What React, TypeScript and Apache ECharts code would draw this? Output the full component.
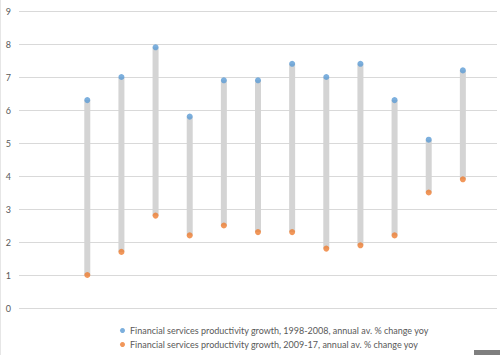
import React, { useEffect, useRef } from "react";
import * as echarts from "echarts";

const categories = ["", "", "A", "B", "C", "D", "E", "F", "G", "H", "I", "J", "K", "L", ""];
const high1998_2008 = [null, null, 6.3, 7.0, 7.9, 5.8, 6.9, 6.9, 7.4, 7.0, 7.4, 6.3, 5.1, 7.2, null];
const low2009_17 = [null, null, 1.0, 1.7, 2.8, 2.2, 2.5, 2.3, 2.3, 1.8, 1.9, 2.2, 3.5, 3.9, null];
const yTicks = [0, 1, 2, 3, 4, 5, 6, 7, 8, 9];
const seriesNames = [
  "Financial services productivity growth, 1998-2008, annual av. % change yoy",
  "Financial services productivity growth, 2009-17, annual av. % change yoy",
];

export default function App() {
  const ref = useRef<HTMLDivElement>(null);
  useEffect(() => {
    if (!ref.current) return;
    const chart = echarts.init(ref.current, null, { renderer: "svg" });
    const rangeData = categories
      .map((c, i) => [i, low2009_17[i], high1998_2008[i]])
      .filter((d) => d[1] != null);
    chart.setOption({
      animation: false,
      backgroundColor: "#ffffff",
      textStyle: { fontFamily: "Lato" },
      grid: { left: 19, right: 3, top: 11, bottom: 47 },
      xAxis: {
        type: "category",
        data: categories,
        boundaryGap: false,
        axisLine: { show: false },
        axisTick: { show: false },
        axisLabel: { show: false },
        splitLine: { show: false },
      },
      yAxis: {
        type: "value",
        min: yTicks[0],
        max: yTicks[yTicks.length - 1],
        interval: 1,
        axisLine: { show: false },
        axisTick: { show: false },
        axisLabel: { color: "#595959", fontSize: 9, margin: 8, fontFamily: "Lato" },
        splitLine: { lineStyle: { color: "#d9d9d9", width: 1 } },
      },
      legend: {
        orient: "vertical",
        left: 115,
        top: 321,
        itemGap: 5,
        itemWidth: 5,
        itemHeight: 5,
        icon: "circle",
        textStyle: { color: "#595959", fontSize: 9, fontFamily: "Lato", padding: [0, 0, 0, 0] },
        data: seriesNames,
      },
      series: [
        {
          type: "custom",
          silent: true,
          z: 1,
          renderItem: (params: any, api: any) => {
            const x = api.value(0);
            const p1 = api.coord([x, api.value(1)]);
            const p2 = api.coord([x, api.value(2)]);
            return {
              type: "rect",
              shape: { x: p1[0] - 3, y: p2[1], width: 6, height: p1[1] - p2[1] },
              style: { fill: "#d4d4d4" },
            };
          },
          encode: { x: 0, y: [1, 2] },
          data: rangeData,
        },
        {
          name: seriesNames[0],
          type: "scatter",
          z: 3,
          symbolSize: 6,
          itemStyle: { color: "#5b9bd5" },
          data: high1998_2008,
        },
        {
          name: seriesNames[1],
          type: "scatter",
          z: 3,
          symbolSize: 6,
          itemStyle: { color: "#ed7d31" },
          data: low2009_17,
        },
      ],
      graphic: [
        { type: "rect", left: 0, top: 0, shape: { width: 1, height: 355 }, style: { fill: "#e6e6e6" } },
        { type: "rect", left: 474, top: 350, shape: { width: 26, height: 5 }, style: { fill: "#7f7f7f" } },
      ],
    });
    return () => chart.dispose();
  }, []);
  return <div ref={ref} style={{ position: "fixed", left: 0, top: 0, width: 500, height: 355 }} />;
}
